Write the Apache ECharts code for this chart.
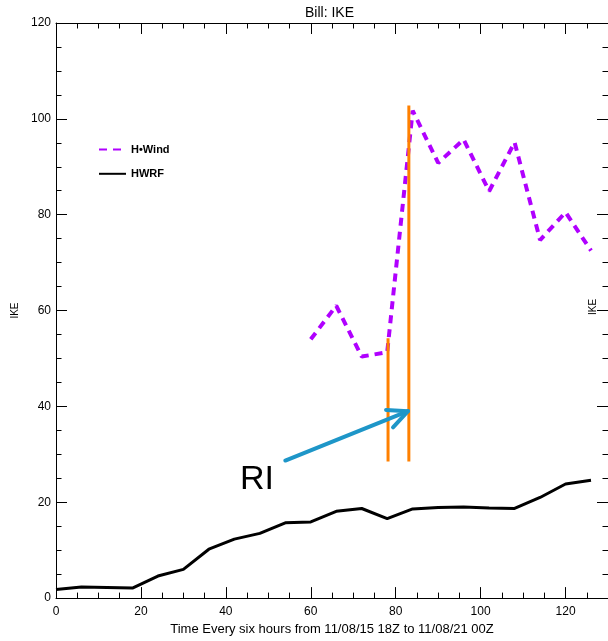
<!DOCTYPE html>
<html>
<head>
<meta charset="utf-8">
<title>Bill: IKE</title>
<script src="https://cdn.jsdelivr.net/npm/echarts@6/dist/echarts.min.js"></script>
<style>
html, body { margin: 0; padding: 0; background: #fff; }
#main { width: 608px; height: 641px; }
</style>
</head>
<body>
<div id="main"></div>
<script>
// HWRF run, every 6 hours
var hours = [0, 6, 12, 18, 24, 30, 36, 42, 48, 54, 60, 66, 72, 78, 84, 90, 96, 102, 108, 114, 120, 126];
var hwrf = [1.8, 2.3, 2.2, 2.1, 4.6, 6.0, 10.2, 12.3, 13.5, 15.7, 15.9, 18.1, 18.7, 16.6, 18.6, 18.9, 19.0, 18.8, 18.7, 21.0, 23.8, 24.6];

// H*Wind analyses
var hwindHours = [60, 66, 72, 78, 84, 90, 96, 102, 108, 114, 120, 126];
var hwind = [54.0, 61.0, 50.4, 51.3, 101.7, 90.8, 95.7, 84.9, 95.1, 74.7, 80.5, 72.5];

// RI markers (hand drawn)
var riHours = [78.2, 83.1];
var riLow = [28.5, 28.5];
var riHigh = [54.2, 102.8];
var arrowFrom = [54.0, 28.7];
var arrowTo = [82.9, 39.0];

var font = '"Liberation Sans", Arial, sans-serif';

function makeAxis(pos, isX, showLabels) {
    var ax = {
        type: 'value',
        position: pos,
        min: 0,
        max: isX ? 130 : 120,
        interval: 20,
        axisLine: { show: true, onZero: false, lineStyle: { color: '#000', width: 1 } },
        axisTick: { show: true, inside: true, length: 11, lineStyle: { color: '#000', width: 1 } },
        minorTick: { show: true, splitNumber: 4, length: 5.5, lineStyle: { color: '#000', width: 1 } },
        splitLine: { show: false },
        minorSplitLine: { show: false },
        axisLabel: {
            show: showLabels,
            color: '#000',
            fontSize: 12,
            fontFamily: font,
            margin: isX ? 8 : 5,
            showMaxLabel: isX ? false : true
        }
    };
    return ax;
}

var xBottom = makeAxis('bottom', true, true);
xBottom.name = 'Time Every six hours from 11/08/15 18Z to 11/08/21 00Z';
xBottom.nameLocation = 'middle';
xBottom.nameGap = 22;
xBottom.nameTextStyle = { color: '#000', fontSize: 13, fontFamily: font };

var yLeft = makeAxis('left', false, true);
yLeft.name = 'IKE';
yLeft.nameLocation = 'middle';
yLeft.nameRotate = 90;
yLeft.nameGap = 34;
yLeft.nameTextStyle = { color: '#000', fontSize: 10, fontFamily: font };

function renderArrow(params, api) {
    var a = api.coord([api.value(0), api.value(1)]);
    var b = api.coord([api.value(2), api.value(3)]);
    var ang = Math.atan2(a[1] - b[1], a[0] - b[0]);
    var len = 22, spread = 0.44;
    var w1 = [b[0] + len * Math.cos(ang + spread), b[1] + len * Math.sin(ang + spread)];
    var w2 = [b[0] + len * Math.cos(ang - spread), b[1] + len * Math.sin(ang - spread)];
    var st = { stroke: '#1e96c8', lineWidth: 4, fill: null, lineCap: 'round', lineJoin: 'round' };
    return {
        type: 'group',
        children: [
            { type: 'line', shape: { x1: a[0], y1: a[1], x2: b[0], y2: b[1] }, style: st },
            { type: 'polyline', shape: { points: [w1, b, w2] }, style: st }
        ]
    };
}

var series = [{
    name: 'H•Wind',
    type: 'line',
    data: hwindHours.map(function (h, i) { return [h, hwind[i]]; }),
    symbol: 'none',
    lineStyle: { color: '#b000ff', width: 4, type: [8, 6] },
    itemStyle: { color: '#b000ff' },
    z: 2
}, {
    name: 'HWRF',
    type: 'line',
    data: hours.map(function (h, i) { return [h, hwrf[i]]; }),
    symbol: 'none',
    lineStyle: { color: '#000', width: 3 },
    itemStyle: { color: '#000' },
    z: 2
}];

riHours.forEach(function (h, i) {
    series.push({
        type: 'line',
        data: [[h, riLow[i]], [h, riHigh[i]]],
        symbol: 'none',
        lineStyle: { color: '#ff8000', width: 3 },
        z: 3
    });
});

series.push({
    type: 'custom',
    renderItem: renderArrow,
    encode: { x: [0, 2], y: [1, 3] },
    data: [[arrowFrom[0], arrowFrom[1], arrowTo[0], arrowTo[1]]],
    z: 4
});

var option = {
    backgroundColor: '#fff',
    animation: false,
    title: {
        text: 'Bill: IKE',
        left: 300,
        top: 1,
        textStyle: { color: '#000', fontSize: 14, fontWeight: 'normal', fontFamily: font }
    },
    legend: {
        data: ['H•Wind', 'HWRF'],
        orient: 'vertical',
        left: 98,
        top: 144,
        padding: 0,
        itemWidth: 27,
        itemHeight: 14,
        itemGap: 13,
        selectedMode: false,
        itemStyle: { opacity: 0 },
        textStyle: { color: '#000', fontSize: 11, fontWeight: 'bold', fontFamily: font }
    },
    grid: { left: 56, top: 23, width: 554, bottom: 38 },
    xAxis: [xBottom, makeAxis('top', true, false)],
    yAxis: [yLeft, makeAxis('right', false, false)],
    graphic: [{
        type: 'text',
        x: 257,
        y: 480,
        style: { text: 'RI', fontSize: 34, fill: '#000', align: 'center', verticalAlign: 'middle', fontFamily: font }
    }, {
        type: 'text',
        x: 593,
        y: 307,
        rotation: Math.PI / 2,
        style: { text: 'IKE', fontSize: 10, fill: '#000', align: 'center', verticalAlign: 'middle', fontFamily: font }
    }],
    series: series
};

var myChart = echarts.init(document.getElementById('main'));
myChart.setOption(option);
</script>
</body>
</html>
